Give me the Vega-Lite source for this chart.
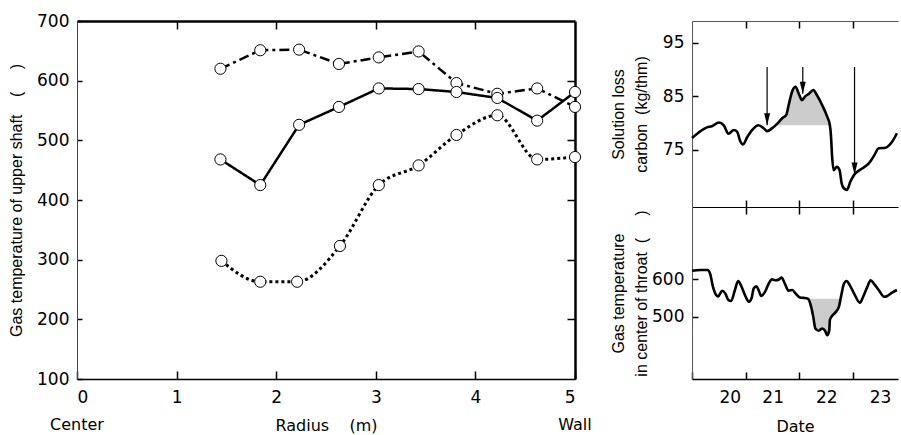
{
  "$schema": "https://vega.github.io/schema/vega-lite/v6.json",
  "padding": {"left": 8, "top": 12, "right": 0, "bottom": 0},
  "background": "white",
  "bounds": "flush",
  "spacing": 117,
  "config": {
    "view": {"stroke": null},
    "axis": {
      "grid": false,
      "labelFont": "DejaVu Sans",
      "labelFontSize": 17,
      "labelColor": "black",
      "titleFont": "Liberation Sans",
      "titleFontSize": 16,
      "titleFontWeight": "normal",
      "titleColor": "black",
      "tickColor": "black",
      "tickWidth": 1.5,
      "domainColor": "black"
    }
  },
  "datasets": {
    "radial": [
      {"series": "dashdot", "r": 1.44, "t": 620},
      {"series": "dashdot", "r": 1.84, "t": 651},
      {"series": "dashdot", "r": 2.23, "t": 652},
      {"series": "dashdot", "r": 2.63, "t": 628},
      {"series": "dashdot", "r": 3.03, "t": 639},
      {"series": "dashdot", "r": 3.43, "t": 649},
      {"series": "dashdot", "r": 3.81, "t": 596},
      {"series": "dashdot", "r": 4.22, "t": 578},
      {"series": "dashdot", "r": 4.62, "t": 587},
      {"series": "dashdot", "r": 5.0, "t": 556},
      {"series": "solid", "r": 1.44, "t": 468},
      {"series": "solid", "r": 1.84, "t": 425},
      {"series": "solid", "r": 2.23, "t": 526},
      {"series": "solid", "r": 2.63, "t": 556},
      {"series": "solid", "r": 3.03, "t": 587},
      {"series": "solid", "r": 3.43, "t": 586},
      {"series": "solid", "r": 3.81, "t": 581},
      {"series": "solid", "r": 4.22, "t": 571},
      {"series": "solid", "r": 4.62, "t": 533},
      {"series": "solid", "r": 5.0, "t": 581},
      {"series": "dotted", "r": 1.45, "t": 298},
      {"series": "dotted", "r": 1.84, "t": 263},
      {"series": "dotted", "r": 2.21, "t": 263},
      {"series": "dotted", "r": 2.64, "t": 323},
      {"series": "dotted", "r": 3.03, "t": 425},
      {"series": "dotted", "r": 3.43, "t": 458},
      {"series": "dotted", "r": 3.81, "t": 509},
      {"series": "dotted", "r": 4.22, "t": 542},
      {"series": "dotted", "r": 4.62, "t": 468},
      {"series": "dotted", "r": 5.0, "t": 472}
    ],
    "ends": [
      {"r": 0, "label": "Center"},
      {"r": 5, "label": "Wall"}
    ],
    "slc": [
      {"day": 20.00, "v": 77.2}, {"day": 20.12, "v": 78.2}, {"day": 20.28, "v": 79.2},
      {"day": 20.37, "v": 79.4}, {"day": 20.50, "v": 80.1}, {"day": 20.59, "v": 79.6},
      {"day": 20.68, "v": 78.0}, {"day": 20.78, "v": 78.7}, {"day": 20.84, "v": 78.4},
      {"day": 20.90, "v": 76.6}, {"day": 20.95, "v": 76.0}, {"day": 21.03, "v": 77.4},
      {"day": 21.12, "v": 78.7}, {"day": 21.24, "v": 79.6}, {"day": 21.34, "v": 79.0},
      {"day": 21.40, "v": 78.5}, {"day": 21.49, "v": 79.0}, {"day": 21.59, "v": 79.9},
      {"day": 21.68, "v": 80.9}, {"day": 21.76, "v": 81.6}, {"day": 21.80, "v": 83.3},
      {"day": 21.87, "v": 86.0}, {"day": 21.93, "v": 86.8}, {"day": 21.99, "v": 85.5},
      {"day": 22.05, "v": 84.3}, {"day": 22.11, "v": 85.0}, {"day": 22.18, "v": 85.5},
      {"day": 22.26, "v": 86.2}, {"day": 22.33, "v": 85.2}, {"day": 22.43, "v": 83.3},
      {"day": 22.52, "v": 81.2}, {"day": 22.57, "v": 79.6}, {"day": 22.59, "v": 77.7},
      {"day": 22.61, "v": 74.0}, {"day": 22.64, "v": 71.2}, {"day": 22.70, "v": 71.8},
      {"day": 22.75, "v": 71.2}, {"day": 22.79, "v": 68.7}, {"day": 22.83, "v": 67.8},
      {"day": 22.89, "v": 67.5}, {"day": 22.95, "v": 69.0}, {"day": 23.02, "v": 70.3},
      {"day": 23.14, "v": 71.3}, {"day": 23.30, "v": 72.5}, {"day": 23.40, "v": 74.0},
      {"day": 23.48, "v": 75.3}, {"day": 23.61, "v": 75.4}, {"day": 23.73, "v": 76.5},
      {"day": 23.82, "v": 78.1}
    ],
    "arrows": [
      {"day": 21.40, "top": 90.5, "tip": 79.6},
      {"day": 22.065, "top": 90.5, "tip": 85.5},
      {"day": 23.03, "top": 90.5, "tip": 70.4}
    ],
    "gt": [
      {"day": 20.00, "t": 622}, {"day": 20.16, "t": 624}, {"day": 20.29, "t": 624},
      {"day": 20.34, "t": 613}, {"day": 20.39, "t": 580}, {"day": 20.45, "t": 558},
      {"day": 20.49, "t": 554}, {"day": 20.56, "t": 569}, {"day": 20.62, "t": 562},
      {"day": 20.68, "t": 544}, {"day": 20.73, "t": 542}, {"day": 20.80, "t": 571},
      {"day": 20.86, "t": 595}, {"day": 20.92, "t": 581}, {"day": 21.00, "t": 553},
      {"day": 21.06, "t": 540}, {"day": 21.11, "t": 549}, {"day": 21.15, "t": 575},
      {"day": 21.20, "t": 581}, {"day": 21.24, "t": 571}, {"day": 21.29, "t": 555},
      {"day": 21.36, "t": 566}, {"day": 21.43, "t": 588}, {"day": 21.49, "t": 599},
      {"day": 21.55, "t": 597}, {"day": 21.62, "t": 599}, {"day": 21.67, "t": 604},
      {"day": 21.73, "t": 588}, {"day": 21.80, "t": 569}, {"day": 21.87, "t": 571},
      {"day": 21.93, "t": 562}, {"day": 22.01, "t": 551}, {"day": 22.08, "t": 550},
      {"day": 22.16, "t": 548}, {"day": 22.22, "t": 527}, {"day": 22.26, "t": 500},
      {"day": 22.30, "t": 469}, {"day": 22.36, "t": 463}, {"day": 22.43, "t": 469},
      {"day": 22.48, "t": 463}, {"day": 22.52, "t": 451}, {"day": 22.56, "t": 465},
      {"day": 22.57, "t": 491}, {"day": 22.61, "t": 502}, {"day": 22.67, "t": 511},
      {"day": 22.74, "t": 527}, {"day": 22.77, "t": 548}, {"day": 22.79, "t": 562},
      {"day": 22.83, "t": 587}, {"day": 22.88, "t": 595}, {"day": 22.94, "t": 584},
      {"day": 23.02, "t": 562}, {"day": 23.13, "t": 537}, {"day": 23.19, "t": 553},
      {"day": 23.27, "t": 580}, {"day": 23.33, "t": 597}, {"day": 23.39, "t": 588},
      {"day": 23.48, "t": 571}, {"day": 23.58, "t": 553}, {"day": 23.64, "t": 555},
      {"day": 23.73, "t": 564}, {"day": 23.82, "t": 571}
    ]
  },
  "hconcat": [
    {
      "width": 498,
      "height": 358,
      "resolve": {"axis": {"x": "independent", "y": "independent"}},
      "layer": [
        {
          "data": {"name": "radial"},
          "transform": [{"filter": "datum.series != 'dotted'"}],
          "mark": {"type": "line", "color": "black", "strokeWidth": 2.5},
          "encoding": {
            "x": {
              "field": "r", "type": "quantitative",
              "scale": {"domain": [0, 5], "nice": false, "zero": false},
              "axis": {
                "orient": "bottom", "values": [0, 1, 2, 3, 4, 5],
                "offset": -8, "tickSize": 8, "labelPadding": 10, "domain": false,
                "title": "Radius\u00a0\u00a0\u00a0\u00a0(m)", "titleFont": "DejaVu Sans",
                "minExtent": 34, "maxExtent": 34, "titlePadding": 12
              }
            },
            "y": {
              "field": "t", "type": "quantitative",
              "scale": {"domain": [100, 700], "nice": false, "zero": false},
              "axis": {
                "orient": "left", "values": [100, 200, 300, 400, 500, 600, 700],
                "offset": -5, "tickSize": 5, "labelPadding": 8, "domain": false,
                "title": "Gas temperature of upper shaft\u00a0\u00a0\u00a0\u00a0(\u00a0\u00a0\u00a0\u00a0\u00a0)",
                "minExtent": 44, "maxExtent": 44, "titlePadding": 14
              }
            },
            "strokeDash": {
              "field": "series", "type": "nominal",
              "scale": {"domain": ["dashdot", "solid"], "range": [[10, 4, 3, 4], [1, 0]]},
              "legend": null
            }
          }
        },
        {
          "data": {"name": "radial"},
          "transform": [{"filter": "datum.series == 'dotted'"}],
          "mark": {"type": "line", "color": "black", "strokeWidth": 3, "strokeDash": [3, 3], "interpolate": "monotone"},
          "encoding": {
            "x": {
              "field": "r", "type": "quantitative",
              "axis": {"orient": "bottom", "ticks": false, "labels": false, "title": null, "domainWidth": 1.5}
            },
            "y": {
              "field": "t", "type": "quantitative",
              "axis": {"orient": "left", "ticks": false, "labels": false, "title": null, "domainWidth": 1, "domainColor": "#444"}
            }
          }
        },
        {
          "data": {"name": "radial"},
          "mark": {"type": "point", "shape": "circle", "filled": true, "fill": "white", "stroke": "black", "strokeWidth": 1, "size": 125, "opacity": 1},
          "encoding": {
            "x": {
              "field": "r", "type": "quantitative",
              "axis": {"orient": "top", "values": [1, 2, 3, 4], "offset": -8, "tickSize": 8, "labels": false, "title": null, "domain": false}
            },
            "y": {
              "field": "t", "type": "quantitative",
              "axis": {"orient": "right", "values": [200, 300, 400, 500, 600], "offset": -8, "tickSize": 8, "labels": false, "title": null, "domain": false}
            }
          }
        },
        {
          "data": {"name": "ends"},
          "mark": {"type": "text", "font": "DejaVu Sans", "fontSize": 16, "baseline": "top", "align": "center", "dy": 38, "color": "black"},
          "encoding": {
            "x": {
              "field": "r", "type": "quantitative",
              "axis": {"orient": "top", "ticks": false, "labels": false, "title": null, "domainWidth": 2.5}
            },
            "y": {
              "datum": 100, "type": "quantitative",
              "axis": {"orient": "right", "ticks": false, "labels": false, "title": null, "domainWidth": 2.5}
            },
            "text": {"field": "label"}
          }
        }
      ]
    },
    {
      "bounds": "flush",
      "spacing": 0,
      "vconcat": [
        {
          "width": 206,
          "height": 186,
          "resolve": {"axis": {"x": "independent", "y": "independent"}},
          "layer": [
            {
              "data": {"name": "slc"},
              "transform": [{"filter": "datum.day >= 21.59 && datum.day <= 22.57"}],
              "mark": {"type": "area", "color": "#cccccc", "interpolate": "monotone"},
              "encoding": {
                "x": {
                  "field": "day", "type": "quantitative",
                  "scale": {"domain": [20, 23.84], "nice": false, "zero": false},
                  "axis": {"orient": "bottom", "values": [21, 22, 23], "offset": -7, "tickSize": 7, "labels": false, "title": null, "domain": false}
                },
                "y": {
                  "field": "v", "type": "quantitative",
                  "scale": {"domain": [64.3, 99.1], "nice": false, "zero": false},
                  "axis": {
                    "orient": "left", "values": [75, 85, 95], "offset": -6, "tickSize": 6, "labelPadding": 8, "domain": false,
                    "title": ["Solution loss", "carbon\u00a0\u00a0(kg/thm)"], "titleLineHeight": 23,
                    "minExtent": 45, "maxExtent": 45, "titlePadding": 4
                  }
                },
                "y2": {"datum": 79.6}
              }
            },
            {
              "data": {"name": "slc"},
              "mark": {"type": "line", "color": "black", "strokeWidth": 2.6, "interpolate": "monotone"},
              "encoding": {
                "x": {
                  "field": "day", "type": "quantitative",
                  "axis": {"orient": "top", "values": [21, 22, 23], "offset": -7, "tickSize": 7, "labels": false, "title": null, "domain": false}
                },
                "y": {
                  "field": "v", "type": "quantitative",
                  "axis": {"orient": "left", "ticks": false, "labels": false, "title": null, "domainWidth": 1, "domainColor": "#555"}
                }
              }
            },
            {
              "data": {"name": "arrows"},
              "mark": {"type": "rule", "color": "black", "strokeWidth": 1.2},
              "encoding": {
                "x": {
                  "field": "day", "type": "quantitative",
                  "axis": {"orient": "bottom", "ticks": false, "labels": false, "title": null, "domainWidth": 1}
                },
                "y": {"field": "top", "type": "quantitative", "axis": null},
                "y2": {"field": "tip"}
              }
            },
            {
              "data": {"name": "arrows"},
              "mark": {"type": "point", "shape": "M-0.5,-1L0.5,-1L0,1Z", "filled": true, "color": "black", "size": 144, "opacity": 1, "yOffset": -6},
              "encoding": {
                "x": {
                  "field": "day", "type": "quantitative",
                  "axis": {"orient": "top", "ticks": false, "labels": false, "title": null, "domainWidth": 1, "domainColor": "#555"}
                },
                "y": {"field": "tip", "type": "quantitative", "axis": null}
              }
            }
          ]
        },
        {
          "width": 206,
          "height": 172,
          "resolve": {"axis": {"x": "independent", "y": "independent"}},
          "layer": [
            {
              "data": {"name": "gt"},
              "transform": [{"filter": "datum.day >= 22.16 && datum.day <= 22.77"}],
              "mark": {"type": "area", "color": "#cccccc", "interpolate": "monotone"},
              "encoding": {
                "x": {
                  "field": "day", "type": "quantitative",
                  "scale": {"domain": [20, 23.84], "nice": false, "zero": false},
                  "axis": {"orient": "top", "values": [21, 22, 23], "offset": -7, "tickSize": 7, "labels": false, "title": null, "domain": false}
                },
                "y": {
                  "field": "t", "type": "quantitative",
                  "scale": {"domain": [335, 791], "nice": false, "zero": false},
                  "axis": {
                    "orient": "left", "values": [500, 600], "offset": -6, "tickSize": 6, "labelPadding": 8, "domain": false,
                    "title": ["Gas temperature", "in center of throat\u00a0\u00a0(\u00a0\u00a0\u00a0\u00a0\u00a0)"], "titleLineHeight": 23,
                    "minExtent": 45, "maxExtent": 45, "titlePadding": 4
                  }
                },
                "y2": {"datum": 548}
              }
            },
            {
              "data": {"name": "gt"},
              "mark": {"type": "line", "color": "black", "strokeWidth": 2.6, "interpolate": "monotone"},
              "encoding": {
                "x": {
                  "field": "day", "type": "quantitative",
                  "axis": {
                    "orient": "bottom", "values": [20, 21, 22, 23], "offset": -7, "tickSize": 7, "labelPadding": 10,
                    "labelOffset": 27, "domain": false,
                    "title": "Date", "titleFont": "DejaVu Sans",
                    "minExtent": 34, "maxExtent": 34, "titlePadding": 12
                  }
                },
                "y": {
                  "field": "t", "type": "quantitative",
                  "axis": {"orient": "left", "ticks": false, "labels": false, "title": null, "domainWidth": 1, "domainColor": "#555"}
                }
              }
            },
            {
              "data": {"name": "gt"},
              "mark": {"type": "line", "opacity": 0},
              "encoding": {
                "x": {
                  "field": "day", "type": "quantitative",
                  "axis": {"orient": "bottom", "ticks": false, "labels": false, "title": null, "domainWidth": 1.5}
                },
                "y": {"field": "t", "type": "quantitative", "axis": null}
              }
            }
          ]
        }
      ]
    }
  ]
}
